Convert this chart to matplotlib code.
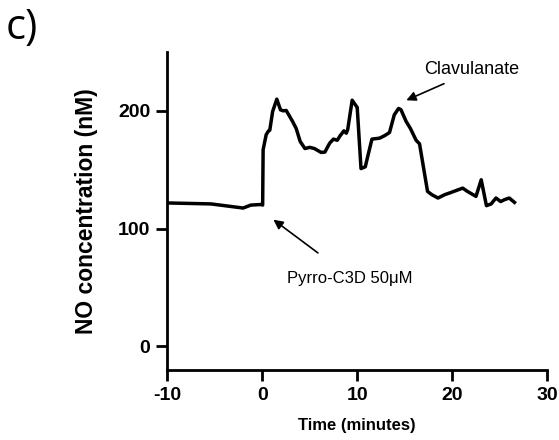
import matplotlib.pyplot as plt

# NO trace
time_min = [-9.9, -5.4, -2.0, -1.2, -0.1, 0.05, 0.1, 0.42, 0.67, 0.8, 1.1, 1.54, 1.93, 2.2,
            2.53, 3.2, 3.58, 4.0, 4.5, 5.0, 5.5, 6.2, 6.6, 7.1, 7.5, 7.9, 8.2, 8.6, 8.85, 9.0,
            9.47, 9.9, 10.0, 10.4, 10.85, 11.1, 11.55, 12.35, 12.9, 13.4, 13.9, 14.35, 14.6,
            15.15, 15.6, 16.2, 16.56, 17.4, 17.86, 18.5, 19.2, 19.9, 21.1, 21.6, 22.5, 23.05,
            23.6, 24.1, 24.6, 25.1, 25.5, 26.0, 26.55]
no_nM = [121.8, 121, 117.5, 120, 120.5, 120, 167, 179.7, 183, 183.5, 199.4, 209.9, 200.8, 200,
         200.3, 191, 185, 174, 168, 169, 168, 164.7, 165, 172.5, 176, 175, 178.8, 183, 181, 184,
         209, 204, 203, 151, 152.5, 161, 176, 176.8, 179, 181.6, 196.6, 202, 201,
         191, 185, 175, 172, 131.6, 128.8, 126, 128.8, 130.8, 134.4, 131.6, 127.4, 141.5,
         119.5, 121, 126, 123, 124.6, 126, 122.3]

xticks = [-10, 0, 10, 20, 30]
yticks = [0, 100, 200]

plt.rcParams['font.family'] = ['Liberation Sans', 'DejaVu Sans']
plt.rcParams['axes.unicode_minus'] = False

fig = plt.figure(figsize=(5.59, 4.4), dpi=100)
ax = fig.add_axes([0.299, 0.159, 0.68, 0.723])

ax.plot(time_min, no_nM, color='black', linewidth=2.5)

ax.set_xlim(-10, 30)
ax.set_ylim(-20, 250)
ax.set_xticks(xticks)
ax.set_yticks(yticks)

for side in ['top', 'right']:
    ax.spines[side].set_visible(False)
for side in ['left', 'bottom']:
    ax.spines[side].set_linewidth(2)

ax.tick_params(direction='out', length=8, width=2, labelsize=14, pad=4)
for lab in ax.get_xticklabels() + ax.get_yticklabels():
    lab.set_fontweight('bold')

ax.set_xlabel('Time (minutes)', fontsize=12, fontweight='bold')
ax.xaxis.set_label_coords(0.5, -0.151)
ax.set_ylabel('NO concentration (nM)', fontsize=16.5, fontweight='bold')
ax.yaxis.set_label_coords(-0.182, 0.5)

# annotations
ax.text(22.0, 234.7, 'Clavulanate', fontsize=13, ha='center', va='center')
ax.annotate('', xy=(14.9, 208), xytext=(19.4, 224),
            arrowprops=dict(arrowstyle='-|>', color='black', lw=1.2, mutation_scale=14))
ax.annotate('', xy=(0.95, 109), xytext=(6.1, 78),
            arrowprops=dict(arrowstyle='-|>', color='black', lw=1.2, mutation_scale=14))
ax.text(9.2, 58, 'Pyrro-C3D 50\u03bcM', fontsize=12, ha='center', va='center')

fig.text(0.01, 0.985, 'c)', fontsize=30, ha='left', va='top',
         family=['Open Sans', 'DejaVu Sans'])

fig.savefig('out.png', dpi=100)
